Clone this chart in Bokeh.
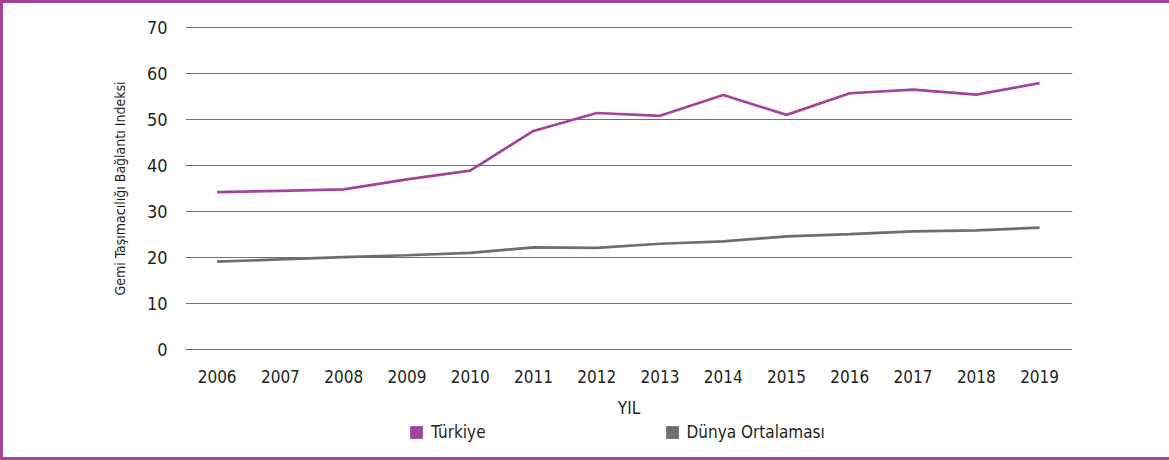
from bokeh.plotting import figure
from bokeh.layouts import column
from bokeh.models import FixedTicker, Range1d, Legend, LegendItem, ColumnDataSource
from bokeh.embed import file_html
from bokeh.resources import INLINE

years = [2006, 2007, 2008, 2009, 2010, 2011, 2012, 2013, 2014, 2015, 2016, 2017, 2018, 2019]
turkiye = [34.2, 34.5, 34.8, 37.0, 38.9, 47.5, 51.4, 50.8, 55.3, 51.0, 55.7, 56.5, 55.4, 57.9]
dunya = [19.1, 19.6, 20.1, 20.5, 21.0, 22.2, 22.1, 23.0, 23.5, 24.6, 25.1, 25.7, 25.9, 26.5]
y_ticks = [0, 10, 20, 30, 40, 50, 60, 70]
series_names = ["Türkiye", "Dünya Ortalaması"]
colors = ["#A3449B", "#6D6E71"]

FONT = "DejaVu Sans Condensed"
TXT = "#231F20"
BORDER = "#A3449B"

W, H1, H2 = 1169, 420, 40
p = figure(width=W, height=H1, output_backend="svg", toolbar_location=None,
           x_range=Range1d(2005.5, 2019.52), y_range=Range1d(-0.2, 70.2),
           min_border_left=185, min_border_right=W - 1072,
           min_border_top=26, min_border_bottom=H1 - 350)
p.outline_line_color = None
p.background_fill_color = "white"
p.border_fill_color = None
p.styles = {"box-shadow": f"inset 3px 3px 0 0 {BORDER}", "background-color": "white"}

p.xgrid.grid_line_color = None
p.ygrid.grid_line_color = "#6F6F6F"
p.ygrid.grid_line_width = 1
p.ygrid.ticker = FixedTicker(ticks=y_ticks)

p.xaxis.ticker = FixedTicker(ticks=years)
p.yaxis.ticker = FixedTicker(ticks=y_ticks)
for ax in (p.xaxis, p.yaxis):
    ax.axis_line_color = None
    ax.major_tick_line_color = None
    ax.minor_tick_line_color = None
    ax.major_label_text_font = FONT
    ax.major_label_text_color = TXT
    ax.axis_label_text_font = FONT
    ax.axis_label_text_color = TXT
    ax.axis_label_text_font_style = "normal"

p.xaxis.major_label_text_font_size = "17px"
p.xaxis.major_label_standoff = 13
p.xaxis.axis_label = "YIL"
p.xaxis.axis_label_text_font_size = "17px"
p.xaxis.axis_label_standoff = 12

p.yaxis.major_label_text_font_size = "18px"
p.yaxis.major_label_standoff = 12
p.yaxis.axis_label = "Gemi Taşımacılığı Bağlantı Indeksi"
p.yaxis.axis_label_text_font_size = "14px"
p.yaxis.axis_label_standoff = 16

src = ColumnDataSource(dict(year=years, t=turkiye, d=dunya))
p.line("year", "t", source=src, color=colors[0], line_width=2.7)
p.line("year", "d", source=src, color=colors[1], line_width=2.7)

# legend strip below the chart (its frame is aligned with the chart frame)
q = figure(width=W, height=H2, output_backend="svg", toolbar_location=None,
           x_range=Range1d(0, 1), y_range=Range1d(0, 1),
           min_border_left=0, min_border_right=0, min_border_top=0, min_border_bottom=0)
q.axis.visible = False
q.grid.visible = False
q.outline_line_color = None
q.background_fill_color = None
q.border_fill_color = None
q.styles = {"box-shadow": f"inset 3px -3px 0 0 {BORDER}", "background-color": "white"}
sw = [q.vbar(x=years, top=vals, width=0.5, fill_color=c, line_color=None, visible=False)
      for c, vals in zip(colors, [turkiye, dunya])]
lg = Legend(items=[LegendItem(label=n, renderers=[r]) for n, r in zip(series_names, sw)],
            location=(223, 18), orientation="horizontal",
            glyph_width=16, glyph_height=16, label_standoff=7, spacing=178,
            padding=0, margin=0, border_line_color=None,
            background_fill_alpha=0,
            label_text_font=FONT, label_text_font_size="17px",
            label_text_color=TXT)
q.add_layout(lg, "center")

layout = column(p, q, spacing=0)

open("out.html", "w").write(file_html(layout, INLINE))
